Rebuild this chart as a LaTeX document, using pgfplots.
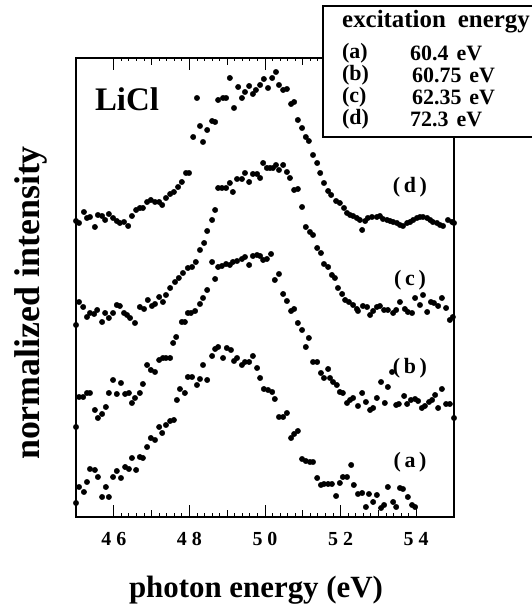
\documentclass[border=0pt]{standalone}
\usepackage{pgfplots}
\pgfplotsset{compat=1.18}
\usepackage{fontspec}
\setmainfont{Liberation Serif}

\newcommand{\fs}[1]{\fontsize{#1}{#1}\selectfont\bfseries}

\begin{document}
\begin{tikzpicture}
\path[use as bounding box] (0bp,0bp) rectangle (532bp,609bp);
\begin{axis}[
  at={(76bp,92bp)}, anchor=south west,
  width=378bp, height=459bp, scale only axis,
  xmin=45, xmax=55, ymin=0, ymax=459,
  xtick={46,48,50,52,54},
  xticklabels={4\hspace{5bp}6,4\hspace{5bp}8,5\hspace{5bp}0,5\hspace{5bp}2,5\hspace{5bp}4},
  minor x tick num=9,
  extra x ticks={47,49,51,53}, extra x tick labels={},
  extra x tick style={major tick length=7bp},
  major tick length=12bp, minor tick length=3.5bp,
  ytick=\empty,
  tick align=inside,
  axis line style={line width=1.3bp},
  every tick/.style={black, line width=0.9bp},
  xticklabel style={font=\fs{20}, yshift=-12bp},
  clip=false,
]
% (a) 60.4 eV
\addplot[only marks, mark=*, mark size=2.7bp, black] coordinates {
(45.00,14) (45.08,30) (45.21,25) (45.29,35) (45.37,48) (45.50,47) (45.58,40) (45.69,20)
(45.79,30) (45.87,20) (45.98,40) (46.08,46) (46.19,39) (46.30,50) (46.40,48) (46.48,59)
(46.59,47) (46.69,60) (46.77,59) (46.88,70) (46.98,79) (47.09,77) (47.20,90) (47.28,84)
(47.38,92) (47.49,96) (47.59,97) (47.67,117) (47.75,128) (47.88,124) (47.96,140) (48.07,140)
(48.20,132) (48.28,138) (48.36,152) (48.47,137) (48.60,161) (48.68,168) (48.76,170) (48.89,159)
(48.99,169) (49.10,167) (49.18,156) (49.26,159) (49.39,152) (49.47,155) (49.58,155) (49.68,161)
(49.79,149) (49.87,139) (49.97,128) (50.08,127) (50.19,125) (50.26,118) (50.37,100) (50.48,100)
(50.58,104) (50.69,79) (50.77,83) (50.87,86) (50.98,58) (51.08,56) (51.19,55) (51.27,55)
(51.38,39) (51.48,32) (51.56,33) (51.67,33) (51.77,33) (51.88,21) (51.98,34) (52.06,40)
(52.17,40) (52.28,52) (52.35,32) (52.46,23) (52.57,24) (52.67,10) (52.75,23) (52.86,15)
(52.96,22) (53.07,9) (53.15,12) (53.25,30) (53.39,15) (53.47,10) (53.57,29) (53.65,28)
(53.78,20) (53.89,12) (53.97,10)
};
% (b) 60.75 eV
\addplot[only marks, mark=*, mark size=2.7bp, black] coordinates {
(45.00,90) (45.08,120) (45.19,120) (45.29,124) (45.37,124) (45.50,107) (45.58,99) (45.69,103)
(45.79,110) (45.87,124) (45.98,137) (46.08,123) (46.19,134) (46.30,123) (46.40,124) (46.48,114)
(46.56,119) (46.69,124) (46.77,133) (46.88,152) (46.98,147) (47.09,145) (47.20,157) (47.30,159)
(47.38,159) (47.49,159) (47.57,174) (47.65,180) (47.80,195) (47.88,195) (47.96,204) (48.04,204)
(48.15,206) (48.28,213) (48.36,219) (48.47,227) (48.60,255) (48.68,238) (48.76,250) (48.86,251)
(48.97,253) (49.07,252) (49.15,255) (49.26,256) (49.39,258) (49.47,260) (49.58,252) (49.68,261)
(49.79,262) (49.87,261) (49.95,257) (50.05,258) (50.16,263) (50.26,237) (50.37,243) (50.48,223)
(50.58,216) (50.69,206) (50.77,208) (50.87,194) (50.98,187) (51.08,170) (51.16,179) (51.27,155)
(51.38,155) (51.48,144) (51.56,139) (51.67,148) (51.72,139) (51.80,135) (51.90,132) (51.98,125)
(52.06,124) (52.17,114) (52.25,117) (52.33,119) (52.46,111) (52.57,124) (52.67,115) (52.78,107)
(52.86,109) (52.96,119) (53.07,135) (53.17,114) (53.25,130) (53.36,145) (53.47,112) (53.54,113)
(53.68,121) (53.76,113) (53.86,117) (53.97,118) (54.05,116) (54.15,109) (54.23,111) (54.34,115)
(54.42,117) (54.50,122) (54.58,109) (54.68,128) (54.79,113) (54.89,113) (55.00,99)
};
% (c) 62.35 eV
\addplot[only marks, mark=*, mark size=2.7bp, black] coordinates {
(45.00,192) (45.08,215) (45.19,210) (45.29,200) (45.37,204) (45.48,203) (45.56,207) (45.69,195)
(45.77,204) (45.87,199) (45.98,204) (46.08,212) (46.16,211) (46.27,204) (46.35,202) (46.43,199)
(46.56,194) (46.69,210) (46.80,208) (46.90,217) (47.01,211) (47.09,213) (47.20,220) (47.30,215)
(47.38,222) (47.49,229) (47.62,235) (47.72,239) (47.83,244) (47.96,249) (48.07,250) (48.17,255)
(48.28,267) (48.39,274) (48.47,286) (48.60,297) (48.68,307) (48.76,329) (48.86,329) (48.97,329)
(49.07,334) (49.15,325) (49.26,338) (49.39,338) (49.47,344) (49.58,335) (49.68,343) (49.79,343)
(49.87,339) (49.95,354) (50.05,349) (50.13,349) (50.21,349) (50.29,352) (50.37,347) (50.48,352)
(50.58,345) (50.66,339) (50.77,327) (50.87,328) (50.98,310) (51.08,290) (51.19,285) (51.27,282)
(51.38,269) (51.48,264) (51.56,253) (51.67,250) (51.77,242) (51.85,239) (51.93,229) (52.04,223)
(52.12,217) (52.22,215) (52.33,212) (52.43,208) (52.46,206) (52.59,211) (52.70,210) (52.78,202)
(52.86,206) (52.96,210) (53.04,211) (53.15,207) (53.25,207) (53.39,204) (53.47,207) (53.57,215)
(53.70,208) (53.78,205) (53.89,204) (53.97,219) (54.10,212) (54.18,222) (54.29,205) (54.39,215)
(54.47,214) (54.58,211) (54.68,219) (54.79,209) (54.89,197) (54.97,200)
};
% (d) 72.3 eV
\addplot[only marks, mark=*, mark size=2.7bp, black] coordinates {
(45.00,296) (45.08,294) (45.21,305) (45.29,299) (45.37,300) (45.50,290) (45.58,302) (45.69,301)
(45.77,297) (45.87,303) (45.98,299) (46.08,296) (46.16,294) (46.27,295) (46.38,291) (46.48,301)
(46.59,307) (46.69,309) (46.77,309) (46.88,315) (46.98,317) (47.09,315) (47.20,315) (47.28,312)
(47.38,319) (47.49,323) (47.59,325) (47.70,330) (47.80,335) (47.91,344) (47.99,344) (48.10,380)
(48.20,419) (48.28,391) (48.36,375) (48.47,387) (48.60,396) (48.68,395) (48.76,417) (48.89,419)
(48.97,419) (49.07,439) (49.18,409) (49.29,430) (49.39,419) (49.47,425) (49.58,431) (49.68,423)
(49.76,427) (49.87,432) (49.97,438) (50.08,429) (50.19,439) (50.29,445) (50.37,432) (50.48,427)
(50.58,428) (50.69,413) (50.77,415) (50.87,397) (50.98,389) (51.08,380) (51.16,376) (51.27,362)
(51.38,354) (51.46,344) (51.56,334) (51.67,326) (51.75,322) (51.88,316) (51.98,314) (52.09,309)
(52.17,304) (52.25,302) (52.33,301) (52.43,299) (52.51,297) (52.57,287) (52.65,296) (52.72,299)
(52.83,300) (52.96,300) (53.04,301) (53.12,298) (53.23,297) (53.31,296) (53.39,295) (53.49,294)
(53.57,292) (53.65,291) (53.76,294) (53.84,295) (53.92,297) (54.02,299) (54.10,300) (54.18,300)
(54.29,299) (54.37,297) (54.44,295) (54.55,294) (54.63,292) (54.71,291) (54.84,297) (54.95,295)
(55.00,294)
};
\end{axis}
\begin{scope}[x=1bp, y=1bp]
% curve labels
\node[font=\fs{22}] at (410,422) {(\,d\,)};
\node[font=\fs{22}] at (410,329) {(\,c\,)};
\node[font=\fs{22}] at (410,241) {(\,b\,)};
\node[font=\fs{22}] at (410,147) {(\,a\,)};
\node[font=\fs{33}] at (127,510) {LiCl};
% axis titles
\node[font=\fs{31}, anchor=base] at (256,12) {photon energy (eV)};
\node[font=\fs{36}, rotate=90] at (31,306) {normalized intensity};
% legend box
\draw[line width=1.3bp, fill=white] (323,472) rectangle (560,603);
\node[font=\fs{25}, anchor=west, inner sep=0pt] at (342,587) {excitation\hspace{12bp}energy};
\node[font=\fs{22}, anchor=west, inner sep=0pt] at (342,556) {(a)};
\node[font=\fs{22}, anchor=west, inner sep=0pt] at (342,534) {(b)};
\node[font=\fs{22}, anchor=west, inner sep=0pt] at (342,512) {(c)};
\node[font=\fs{22}, anchor=west, inner sep=0pt] at (342,490) {(d)};
\node[font=\fs{22}, anchor=west, inner sep=0pt] at (410,556) {60.4\hspace{8bp}eV};
\node[font=\fs{22}, anchor=west, inner sep=0pt] at (412,534) {60.75\hspace{8bp}eV};
\node[font=\fs{22}, anchor=west, inner sep=0pt] at (412,512) {62.35\hspace{8bp}eV};
\node[font=\fs{22}, anchor=west, inner sep=0pt] at (410,490) {72.3\hspace{8bp}eV};
\end{scope}
\end{tikzpicture}
\end{document}
